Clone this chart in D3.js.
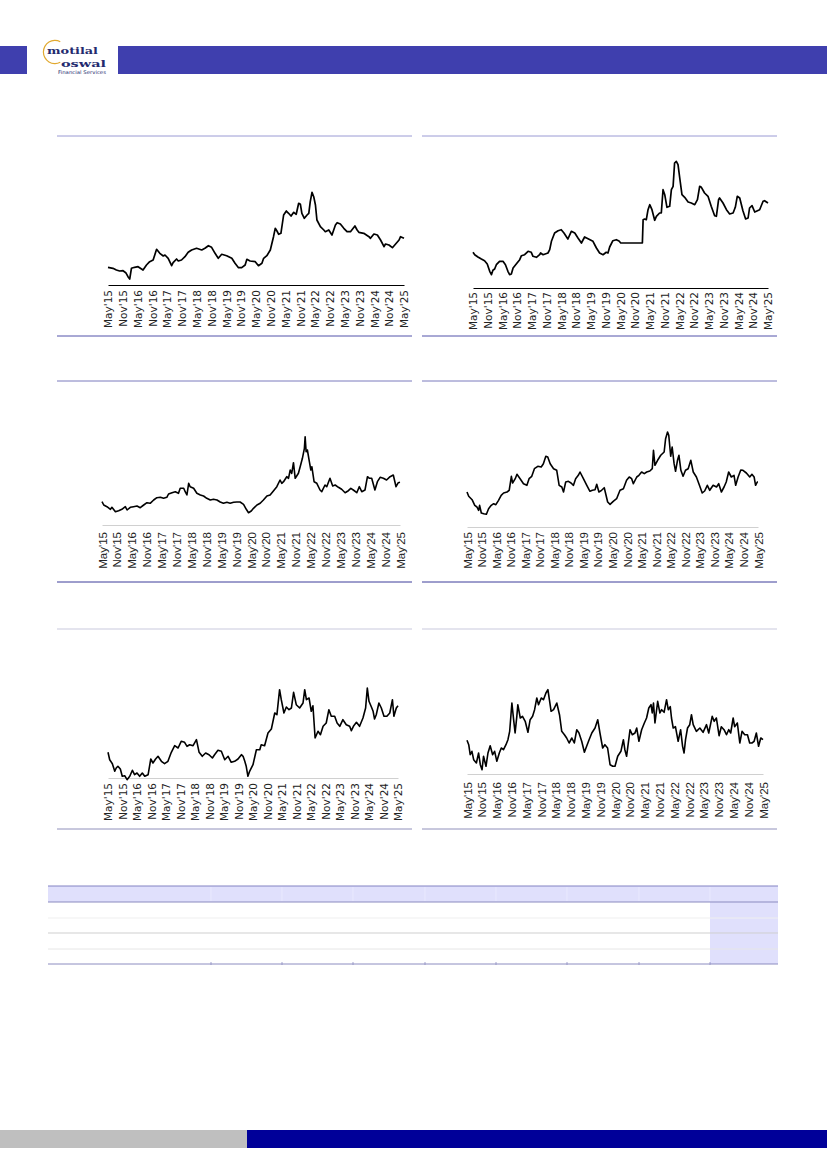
<!DOCTYPE html>
<html>
<head>
<meta charset="utf-8">
<script src="https://cdn.jsdelivr.net/npm/d3@7/dist/d3.min.js"></script>
<style>
  body { margin: 0; background: #fff; }
  svg { display: block; }
</style>
</head>
<body>
<svg></svg>
<script>
const width = 827;
const height = 1169;

// months counted from May'15, ticks every six months
const tickLabels = ["May'15", "Nov'15", "May'16", "Nov'16", "May'17", "Nov'17", "May'18", "Nov'18",
  "May'19", "Nov'19", "May'20", "Nov'20", "May'21", "Nov'21", "May'22", "Nov'22",
  "May'23", "Nov'23", "May'24", "Nov'24", "May'25"];
const tickMonths = d3.range(0, 121, 6);

// [month, value]
const series1 = [[0,17.7],[2.0,16.7],[3.4,15],[4.7,14],[6.1,14.3],[7.2,12.3],[8.1,8.3],[8.8,6],[9.5,16.7],[10.8,17.7],[12.2,18.3],[14.2,15],[15.6,20],[16.9,23.3],[18.3,25],[19.7,35.7],[21.0,31.7],[22.4,29],[23.1,30],[24.4,26.7],[25.8,19.3],[26.4,22.3],[27.8,26],[28.5,24],[29.8,25],[31.2,28.3],[32.5,32.7],[33.9,35],[35.9,36.7],[38.0,35],[39.3,36.7],[40.7,39.3],[42.0,37.7],[43.4,31.7],[44.7,26.7],[46.1,30.7],[48.1,29.3],[50.2,26.7],[51.5,21.7],[52.9,17.3],[54.2,17.3],[55.6,20],[56.3,25.7],[57.6,24],[59.7,23.3],[61.0,19.3],[62.4,21.7],[63.1,26.7],[64.4,29.3],[65.8,35],[67.1,48.3],[67.8,56.7],[68.5,54],[69.2,50.7],[70.1,51.7],[71.2,70],[72.3,74],[73.2,71.7],[74.2,69],[75.3,72.7],[76.3,70.7],[77.3,81.7],[78.0,80.7],[78.6,71.7],[79.6,66.7],[80.7,70],[81.4,71.7],[82.0,83.3],[82.7,92.7],[83.4,88.3],[84.1,80],[84.7,65],[86.1,58.3],[87.5,55],[88.1,53.3],[89.5,55],[90.8,50],[92.2,60],[92.9,62.3],[94.2,61],[95.6,56.7],[96.9,53.3],[98.3,53.3],[100.1,59],[101.0,55],[101.7,52.7],[103.7,51.7],[105.8,48.3],[106.4,46.7],[107.8,51],[109.2,50],[110.5,45],[111.9,38.3],[112.5,41],[113.9,40],[115.3,37.3],[116.6,41],[118.0,45],[118.6,48.3],[120,46.7]];

const series2 = [[0,35.7],[0.7,33.3],[2.0,31],[3.4,29],[4.7,27.3],[5.8,24],[6.8,16.7],[7.5,13.3],[8.1,17.7],[8.8,19],[9.5,23.3],[10.8,26.7],[12.2,26.7],[13.2,23.3],[14.2,16.7],[14.9,13.3],[15.6,14],[16.3,20],[17.6,24],[19.0,28.3],[19.7,32.3],[21.0,33.3],[22.4,36.7],[23.7,35.7],[24.4,31.7],[25.8,30.7],[27.1,33.3],[27.5,35],[28.5,33.3],[30.5,35],[31.2,38.3],[31.9,46.7],[33.2,55],[34.6,57.3],[35.9,58.3],[37.0,55],[38.6,49],[40.0,56.7],[41.4,55],[42.7,50],[44.1,45],[45.4,51],[46.8,49.3],[48.8,46.7],[50.2,40],[51.5,35],[52.9,33.3],[54.2,35.7],[54.9,35],[55.6,41],[56.9,47.3],[58.3,48.3],[59.4,47],[60.1,45],[68.9,45],[69.2,68.3],[69.8,69],[70.5,68.3],[71.2,78.3],[71.9,83.3],[72.8,78.3],[73.9,67.7],[74.6,71.7],[75.9,75],[76.6,75],[77.3,98.3],[78.0,93.3],[78.9,80.7],[80.0,81.7],[80.7,98.3],[81.4,101.7],[82.0,125],[82.7,126.7],[83.4,123.3],[84.1,110],[85.0,93.3],[86.1,90.7],[87.5,86],[88.8,85],[90.2,83.3],[91.3,88.3],[92.2,101.7],[92.9,100.7],[94.2,95],[95.6,91.7],[96.9,81.7],[98.3,72.3],[99.0,71.7],[99.9,88.3],[100.3,90],[101.7,85],[103.1,78.3],[104.4,74],[105.8,75],[106.7,80.7],[107.5,91.7],[108.5,90],[109.8,77.3],[110.9,69],[111.9,70],[112.5,80],[113.5,82.3],[114.6,76],[116.6,78.3],[118.0,86.7],[118.6,87.3],[120,85]];

const series3 = [[0,23.3],[0.7,20],[2.0,18.3],[3.4,15.7],[4.0,17.7],[5.4,13.3],[6.7,14.3],[8.0,15.7],[9.4,18.3],[10.1,15],[11.4,17.7],[12.7,18.3],[14.1,19],[15.4,17.3],[16.8,20],[18.1,22.3],[19.4,21.7],[20.8,25],[22.1,27.3],[23.5,27.7],[24.8,26.7],[26.1,27.7],[26.8,31],[28.2,32.3],[29.5,33.3],[30.8,31.7],[31.5,36.7],[32.9,36.7],[33.5,33.3],[34.2,30],[34.9,41.7],[35.5,38.3],[36.9,36.7],[38.2,31.7],[39.6,30],[40.9,29],[42.2,26.7],[43.6,25],[44.9,25.7],[46.3,25],[47.6,23],[48.9,21.7],[50.3,22.7],[51.6,21.7],[53.0,22.7],[54.3,23],[55.6,23],[57.0,20.7],[58.1,15.7],[59.0,12.3],[60.1,14],[61.0,16.7],[62.4,20],[63.7,21.7],[65.0,25],[66.4,29],[67.7,30],[69.1,34.3],[70.4,38.3],[71.7,45],[72.4,41.7],[73.1,43.3],[74.4,48.3],[75.1,46.7],[75.8,55],[76.4,51.7],[77.1,62.3],[77.8,46.7],[78.4,49],[79.1,51.7],[79.8,58.3],[80.7,66.7],[81.5,76.7],[81.8,88.3],[82.2,73.3],[82.7,75],[83.5,63.3],[84.1,55],[84.5,58.3],[85.4,43.3],[86.5,41.7],[87.8,35],[88.5,33.3],[89.8,40],[90.5,38.3],[91.8,46.7],[92.9,39],[93.9,40],[95.2,37.7],[96.5,35.7],[97.9,32.3],[99.2,34.3],[100.2,36.7],[101.2,35],[102.6,32.3],[103.6,38.3],[104.6,33.3],[105.9,35],[106.9,48.3],[107.7,46.7],[108.6,46.7],[109.9,35],[110.9,43.3],[112.0,47.7],[113.3,46.7],[114.6,45],[116.0,48.3],[117.3,50],[118.4,38.3],[119.3,42.3],[120,42.7]];

const series4 = [[0,35],[0.7,30.7],[2.1,27.3],[3.2,21.7],[4.1,20],[4.8,16.7],[5.2,21.7],[5.9,14],[6.9,13.3],[8.0,12.7],[8.9,18.3],[10.0,21.7],[11.0,23.3],[11.9,22.3],[13.0,26.7],[14.1,31.7],[15.1,34],[16.5,35],[17.4,36.7],[18.3,50.7],[18.8,44],[19.9,48.3],[20.6,52.7],[21.9,48.3],[23.3,43.3],[24.7,41.7],[25.6,48.3],[26.7,50.7],[27.8,58.3],[29.2,60.7],[30.6,60],[31.5,63.3],[32.5,70.7],[33.3,70],[34.3,63.3],[35.7,58.3],[37.0,56.7],[38.0,41.7],[39.1,40],[39.8,35],[40.7,45],[41.8,45.7],[42.9,44],[43.9,41.7],[44.8,48.3],[45.9,51.7],[46.6,55],[48.0,48.3],[49.4,41.7],[50.7,35.7],[51.7,36.7],[52.8,37.3],[53.5,42.7],[54.4,35],[55.5,36.7],[56.6,39.3],[58.0,25],[59.0,22.7],[60.3,25.7],[61.7,28.3],[63.1,36.7],[64.5,38.3],[65.8,46.7],[66.9,50],[67.9,48.3],[68.6,43.3],[70.0,50],[70.9,51.7],[72.0,55],[73.1,53.3],[74.1,55],[75.4,56],[76.4,58.3],[76.9,76.7],[77.5,61.7],[78.6,66.7],[79.9,71.7],[81.3,75],[81.9,88.3],[82.7,95],[83.2,91.7],[84.0,70.7],[84.6,80],[85.4,63.3],[86.0,55.7],[86.8,66.7],[87.4,71.7],[88.2,56.7],[89.1,50.7],[90.1,56.7],[91.2,58.3],[92.3,66.7],[93.3,55],[94.6,50],[96.0,40.7],[97.0,34],[98.0,36],[99.1,41.7],[100.1,36.7],[101.5,41.7],[102.9,40],[103.8,43.3],[104.9,35],[106.0,40],[106.9,45],[107.9,55],[109.0,50],[110.1,51.7],[110.8,41.7],[111.8,50],[112.9,57],[113.8,56.7],[115.2,54],[116.6,50],[117.5,52.7],[118.4,50],[119.0,41.7],[119.7,45],[120,45]];

const series5 = [[0,25.7],[0.7,18.3],[1.8,14.3],[2.8,6.7],[3.4,10],[4.1,11.7],[5.1,9],[5.9,1.7],[6.9,2.3],[7.9,-1.7],[9.0,1.7],[10.1,7.7],[11.0,3.3],[12.0,5],[13.1,1.7],[14.2,5],[15.2,1.7],[16.6,3.3],[17.7,19],[18.6,15],[19.7,19],[20.7,21.7],[22.1,16.7],[23.4,14.3],[24.8,16.7],[26.2,25.7],[27.6,32.3],[29.0,30],[30.3,36.7],[31.7,35.7],[32.7,31.7],[33.8,33.3],[35.2,32.3],[36.6,38.3],[37.7,25.7],[39.0,21.7],[40.4,25],[41.8,23.3],[43.2,20],[44.1,23.3],[45.5,27.7],[46.9,26.7],[48.3,18.3],[49.7,21.7],[51.0,15.7],[52.4,16.7],[53.8,19],[55.2,23.3],[55.9,21.7],[56.6,16.7],[57.2,11.7],[57.9,1.7],[58.6,6.7],[60.0,13.3],[61.4,28.3],[62.8,28.3],[63.4,33.3],[64.8,32.3],[66.2,45],[67.6,49],[69.0,65],[69.9,63.3],[71.0,88.3],[71.7,78.3],[72.8,65],[73.8,71],[74.9,68.3],[75.9,70],[76.8,85.7],[77.9,73.3],[79.3,70],[80.7,75],[81.4,88.3],[82.1,78.3],[83.2,80],[84.1,66.7],[84.8,72.3],[85.7,40],[86.9,46.7],[87.9,43.3],[89.0,51.7],[90.3,55],[91.4,68.3],[92.4,61.7],[93.8,61.7],[94.8,55],[95.9,51.7],[97.2,58.3],[98.6,53.3],[100.0,51.7],[100.7,47.3],[101.7,52.3],[102.8,55.7],[104.1,51.7],[105.5,60],[106.6,70],[107.3,90],[108.0,76.7],[109.0,71],[109.7,66.7],[110.3,59],[111.0,63.3],[112.1,75],[113.1,70],[114.2,61.7],[115.4,61.7],[116.6,65],[117.7,78.3],[118.3,61.7],[119.3,70],[120,72.3]];

const series6 = [[0,33.7],[0.7,29.3],[1.3,19.3],[2.0,22.7],[2.7,14.3],[3.8,11],[4.7,21],[5.4,9.3],[6.1,4.3],[6.7,17.7],[7.7,7.7],[8.5,21],[9.4,28.3],[10.4,19.3],[11.2,22.7],[12.1,12.7],[13.1,21],[13.9,26],[14.8,24.3],[15.8,29.3],[16.6,34.3],[17.3,42.7],[18.2,71],[18.9,54.3],[19.5,41],[20.2,57.7],[20.6,69.3],[21.6,56],[22.5,57.7],[23.6,52.7],[24.7,41.7],[25.6,54.3],[26.6,57.7],[27.4,64.3],[28.3,76],[29.0,69.3],[30.1,76],[31.0,74.3],[32.0,81],[32.8,84.3],[33.4,74.3],[34.1,62.7],[35.1,64.3],[36.4,71],[37.5,59.3],[38.4,42.7],[39.5,39.3],[40.4,36],[41.4,31],[42.5,36],[43.5,31],[44.5,44.3],[45.4,41],[46.5,32.7],[47.6,21.7],[48.5,27.7],[49.5,34.3],[50.6,41],[51.9,46],[53.0,54.3],[53.9,41],[55.0,26],[55.9,29.3],[57.0,26],[58.0,9.3],[59.1,7.7],[60.0,7.7],[61.1,17.7],[62.4,22.7],[63.4,34.3],[64.0,24.3],[64.7,17.7],[66.1,44.3],[67.0,39.3],[68.1,41],[68.8,46],[69.7,32.7],[70.8,44.3],[71.9,51],[72.8,56],[73.7,66],[74.6,69.3],[75.1,61],[75.6,71],[76.2,51],[77.3,72.7],[78.2,61],[78.9,64.3],[79.9,61.7],[80.9,74.3],[81.6,64.3],[82.4,67.3],[82.9,56],[83.6,46],[84.5,47.3],[85.6,32.7],[86.6,44.3],[87.4,27.7],[88.0,21],[88.6,34.3],[89.4,46],[90.3,49.3],[91.0,59.3],[91.7,49.3],[93.0,42.7],[94.4,46],[95.7,41.7],[97.1,49.3],[98.0,41],[99.4,57.7],[100.2,52.7],[101.1,56],[102.2,38.3],[103.1,47.3],[104.2,44.3],[105.2,39.3],[106.1,44.3],[106.9,41],[107.9,56],[108.5,47.3],[109.6,51],[110.6,31],[111.5,42.7],[112.6,39.3],[113.7,39.3],[114.6,31],[115.5,31],[116.4,32.7],[117.3,41],[118.2,27.7],[119.1,36],[120,34.3]];

const svg = d3.select('svg')
  .attr('width', width)
  .attr('height', height);

// header band and logo
svg.append('rect').attr('x', 0).attr('y', 46).attr('width', 27).attr('height', 28).attr('fill', '#3f3fae');
svg.append('rect').attr('x', 118).attr('y', 46).attr('width', width - 118).attr('height', 28).attr('fill', '#3f3fae');

const logo = svg.append('g');
logo.append('path')
  .attr('transform', 'translate(55,52)')
  .attr('d', d3.arc()({ innerRadius: 11, outerRadius: 12.2, startAngle: Math.PI * 0.85, endAngle: Math.PI * 2.15 }))
  .attr('fill', '#e1a92f');
logo.append('text')
  .attr('x', 47).attr('y', 54)
  .attr('textLength', 51).attr('lengthAdjust', 'spacingAndGlyphs')
  .style('font-family', 'DejaVu Serif').style('font-weight', 'bold').style('font-size', '10px')
  .attr('fill', '#232a6e')
  .text('motilal');
logo.append('text')
  .attr('x', 61).attr('y', 66.5)
  .attr('textLength', 45).attr('lengthAdjust', 'spacingAndGlyphs')
  .style('font-family', 'DejaVu Serif').style('font-weight', 'bold').style('font-size', '10px')
  .attr('fill', '#232a6e')
  .text('oswal');
logo.append('text')
  .attr('x', 58).attr('y', 73.8)
  .attr('textLength', 48).attr('lengthAdjust', 'spacingAndGlyphs')
  .style('font-family', 'DejaVu Sans').style('font-size', '5px')
  .attr('fill', '#232a6e')
  .text('Financial Services');

// chart panels
const verdana = { family: 'DejaVu Sans', size: 10.5 };
const arial = { family: 'Liberation Sans', size: 11.5 };

const panels = [
  { data: series1, left: 57, right: 412, top: 136, bottom: 336, x0: 108, x1: 404, axisY: 285, axisColor: '#000', font: verdana, gap: 5, lineW: 1.7, topColor: '#9a9ad4', bottomColor: '#5252aa' },
  { data: series2, left: 422, right: 777, top: 136, bottom: 336, x0: 473, x1: 768, axisY: 288, axisColor: '#000', font: verdana, gap: 4, lineW: 1.7, topColor: '#9a9ad4', bottomColor: '#5252aa' },
  { data: series3, left: 57, right: 412, top: 381, bottom: 582, x0: 102, x1: 400, axisY: 525, axisColor: '#d0d0d0', font: arial, gap: 7, lineW: 1.6, topColor: '#7a7abd', bottomColor: '#3c3c9a' },
  { data: series4, left: 422, right: 777, top: 381, bottom: 582, x0: 467, x1: 758, axisY: 527, axisColor: '#d0d0d0', font: arial, gap: 5, lineW: 1.6, topColor: '#7a7abd', bottomColor: '#3c3c9a' },
  { data: series5, left: 57, right: 412, top: 629, bottom: 829, x0: 108, x1: 398, axisY: 778, axisColor: '#d0d0d0', font: verdana, gap: 5, lineW: 1.6, topColor: '#c9c9dd', bottomColor: '#9090bb' },
  { data: series6, left: 422, right: 777, top: 629, bottom: 829, x0: 467, x1: 763, axisY: 774, axisColor: '#d0d0d0', font: arial, gap: 8, lineW: 1.6, topColor: '#c9c9dd', bottomColor: '#9090bb' }
];

panels.forEach(p => {
  const g = svg.append('g');

  g.append('line').attr('x1', p.left).attr('x2', p.right).attr('y1', p.top).attr('y2', p.top)
    .attr('stroke', p.topColor).attr('stroke-width', 1);
  g.append('line').attr('x1', p.left).attr('x2', p.right).attr('y1', p.bottom).attr('y2', p.bottom)
    .attr('stroke', p.bottomColor).attr('stroke-width', 1);

  const x = d3.scaleLinear().domain([0, 120]).range([p.x0, p.x1]);
  const y = d3.scaleLinear().domain([0, 100]).range([p.axisY, p.axisY - 100]);

  const axis = d3.axisBottom(x)
    .tickValues(tickMonths)
    .tickFormat((d, i) => tickLabels[i])
    .tickSize(0);

  const axisG = g.append('g')
    .attr('transform', `translate(0,${p.axisY})`)
    .call(axis);
  axisG.select('.domain').attr('stroke', p.axisColor).attr('stroke-width', p.axisColor === '#000' ? 1.2 : 1);
  axisG.selectAll('text')
    .attr('x', -p.gap)
    .attr('y', 0)
    .attr('dy', '0.35em')
    .attr('transform', 'rotate(-90)')
    .style('text-anchor', 'end')
    .style('font-family', p.font.family)
    .style('font-size', p.font.size + 'px')
    .attr('fill', '#222');

  const line = d3.line()
    .x(d => x(d[0]))
    .y(d => y(d[1]));

  g.append('path')
    .datum(p.data)
    .attr('d', line)
    .attr('fill', 'none')
    .attr('stroke', '#000')
    .attr('stroke-width', p.lineW)
    .attr('stroke-linejoin', 'round');
});

// empty valuation table
const colEdges = [48, 211, 282, 353, 425, 496, 567, 639, 710, 778];
const rowEdges = [886, 902, 918, 933, 949, 964];
const table = svg.append('g');
table.append('rect').attr('x', 48).attr('y', 886).attr('width', 730).attr('height', 16).attr('fill', '#e0e0fc');
table.append('rect').attr('x', 710).attr('y', 902).attr('width', 68).attr('height', 62).attr('fill', '#e0e0fc');
colEdges.slice(1, -1).forEach(cx => {
  table.append('line').attr('x1', cx).attr('x2', cx).attr('y1', 887).attr('y2', 901)
    .attr('stroke', '#ececff').attr('stroke-width', 0.8);
  table.append('line').attr('x1', cx).attr('x2', cx).attr('y1', 962).attr('y2', 965)
    .attr('stroke', '#8c8cc0').attr('stroke-width', 0.8);
});
const rowColors = ['#8282c2', '#8a8abf', '#efefef', '#cfcfcf', '#e6e6e6', '#8c8cc0'];
rowEdges.forEach((ry, i) => {
  table.append('line').attr('x1', 48).attr('x2', 778).attr('y1', ry).attr('y2', ry)
    .attr('stroke', rowColors[i]).attr('stroke-width', 1);
});

// footer band
svg.append('rect').attr('x', 0).attr('y', 1130).attr('width', 247).attr('height', 18).attr('fill', '#bfbfbf');
svg.append('rect').attr('x', 247).attr('y', 1130).attr('width', width - 247).attr('height', 18).attr('fill', '#000099');
</script>
</body>
</html>
